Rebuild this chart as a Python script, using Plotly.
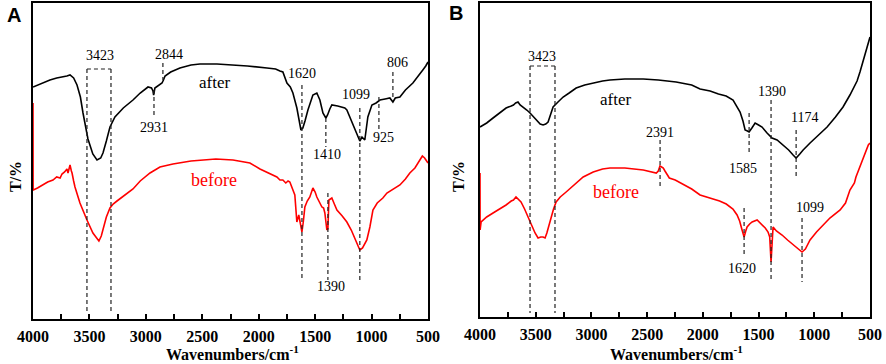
import plotly.graph_objects as go

# ---------------- data (wavenumber cm-1, transmittance in arbitrary units) ----------------
A_after_wn = [4000, 3920, 3850, 3790, 3734, 3700, 3672, 3640, 3610, 3580, 3557, 3535, 3513, 3470, 3433,
              3400, 3380, 3350, 3318, 3274, 3200, 3114, 3050, 2981, 2950, 2937, 2931, 2920, 2880, 2857,
              2844, 2830, 2780, 2698, 2600, 2521, 2370, 2228, 2100, 1927, 1850, 1812, 1786, 1750, 1720,
              1697, 1662, 1626, 1609, 1590, 1564, 1520, 1485, 1458, 1431, 1405, 1390, 1370, 1352, 1300,
              1237, 1219, 1174, 1148, 1120, 1104, 1085, 1060, 1033, 997, 960, 926, 880, 838, 811, 790,
              749, 700, 634, 590, 546, 520, 500]
A_after_T = [232, 236, 239, 241, 242, 243, 244, 241, 234, 222, 206, 192, 180, 165, 159,
             161, 166, 178, 192, 202, 211, 219, 226, 232, 231, 228, 224, 231, 234, 236,
             239, 243, 247, 251, 254, 255, 255, 254, 253, 251, 250, 248, 247, 236, 232,
             226, 211, 189, 191, 198, 209, 224, 226, 219, 206, 201, 204, 210, 214, 213,
             211, 209, 197, 189, 183, 178, 182, 179, 202, 214, 216, 219, 220, 221, 217, 221,
             222, 229, 236, 242, 249, 253, 257]

A_before_wn = [4000, 3999, 3960, 3911, 3870, 3823, 3790, 3760, 3743, 3720, 3699, 3690, 3680, 3672, 3660,
               3654, 3640, 3628, 3584, 3550, 3522, 3469, 3440, 3416, 3395, 3380, 3350, 3318, 3290, 3256,
               3180, 3114, 3050, 2963, 2875, 2760, 2600, 2460, 2380, 2228, 2078, 1989, 1927, 1839, 1812,
               1786, 1760, 1740, 1724, 1697, 1680, 1662, 1645, 1630, 1617, 1605, 1591, 1570, 1547, 1520,
               1500, 1485, 1460, 1440, 1425, 1414, 1396, 1387, 1378, 1365, 1352, 1330, 1307, 1260, 1219,
               1180, 1148, 1120, 1104, 1080, 1042, 1015, 988, 950, 900, 864, 800, 749, 700, 661,
               616, 590, 572, 550, 530, 515, 500]
A_before_T = [216, 129, 131, 134, 137, 139, 142, 141, 145, 147, 150, 146, 153, 154, 148,
              146, 138, 132, 116, 106, 99, 86, 81, 78, 83, 89, 102, 111, 115, 118,
              124, 130, 138, 146, 152, 155, 158, 159, 160, 159, 156, 150, 147, 142, 139,
              139, 136, 138, 137, 129, 124, 97, 104, 95, 87, 97, 112, 118, 122, 131,
              127, 122, 116, 112, 111, 106, 89, 90, 119, 120, 121, 115, 109, 103, 97,
              89, 81, 74, 69, 71, 79, 92, 109, 116, 121, 126, 130, 134, 140, 146,
              151, 156, 159, 163, 161, 158, 156]

B_after_wn = [4000, 3940, 3883, 3820, 3766, 3720, 3700, 3680, 3659, 3640, 3614, 3580, 3551, 3520, 3497,
              3460, 3434, 3410, 3389, 3365, 3344, 3300, 3254, 3200, 3137, 3060, 2984, 2900, 2834, 2700,
              2535, 2400, 2240, 2100, 2025, 1935, 1860, 1791, 1729, 1700, 1666, 1640, 1621, 1600, 1585,
              1560, 1531, 1500, 1469, 1424, 1379, 1334, 1290, 1230, 1190, 1163, 1130, 1100, 1038, 960,
              885, 810, 742, 680, 616, 590, 560, 536, 515, 500]
B_after_T = [190, 194, 199, 204, 209, 211, 212, 214, 215, 212, 210, 207, 204, 200, 197,
             193, 192, 193, 195, 202, 210, 215, 220, 224, 229, 232, 234, 236, 237, 238,
             238, 237, 235, 232, 228, 226, 223, 221, 217, 212, 205, 196, 187, 186, 185,
             189, 194, 192, 190, 184, 179, 177, 173, 167, 162, 159, 163, 167, 174, 182,
             190, 200, 210, 222, 236, 245, 256, 265, 273, 280]

B_before_wn = [4000, 3999, 3990, 3940, 3883, 3820, 3766, 3720, 3700, 3677, 3660, 3632, 3600, 3569, 3540,
               3506, 3479, 3455, 3434, 3416, 3400, 3371, 3340, 3317, 3280, 3227, 3150, 3074, 2984, 2900,
               2834, 2700, 2535, 2450, 2418, 2400, 2385, 2370, 2355, 2340, 2320, 2301, 2248, 2100, 2025,
               1935, 1850, 1790, 1756, 1730, 1693, 1670, 1648, 1630, 1615, 1603, 1580, 1558, 1513, 1469,
               1440, 1415, 1400, 1388, 1380, 1370, 1340, 1289, 1240, 1190, 1150, 1110, 1080, 1038, 980,
               921, 860, 768, 720, 680, 640, 626, 590, 560, 536, 515, 500]
B_before_T = [144, 87, 95, 100, 104, 108, 112, 116, 117, 120, 118, 115, 108, 100, 92,
              84, 79, 80, 80, 79, 84, 97, 108, 115, 120, 125, 133, 140, 145, 148,
              149, 149, 147, 145, 144, 146, 151, 150, 149, 146, 142, 139, 137, 128, 122,
              119, 116, 113, 110, 108, 102, 96, 87, 80, 86, 90, 93, 95, 97, 92,
              89, 85, 80, 55, 74, 90, 86, 82, 77, 72, 69, 65, 68, 77, 85,
              92, 99, 107, 114, 127, 134, 140, 150, 160, 167, 172, 174]

# peak markers: label text, wavenumber of dashed line, line span (T from, T to)
A_peaks = ["2931", "2844", "1620", "1410", "1099", "925", "806", "1390"]
A_peak_wn = [2928, 2849, 1617, 1405, 1104, 935, 811, 1387]
A_peak_span = [(229, 202), (256, 239), (234, 39), (201, 172), (211, 37), (222, 189), (247, 222), (126, 39)]
A_label_pos = [(2928, 191), (2795, 264), (1617, 245), (1396, 165), (1139, 224), (891, 182), (767, 256), (1360, 33)]
A_box = (3522, 3309, 250, 6)
A_box_label = ("3423", 3407, 263)

B_peaks = ["2391", "1585", "1390", "1174", "1620", "1099"]
B_peak_wn = [2384, 1585, 1388, 1163, 1630, 1110]
B_peak_span = [(177, 129), (204, 162), (217, 35), (187, 139), (109, 60), (99, 35)]
B_label_pos = [(2384, 185), (1639, 149), (1379, 225), (1092, 199), (1648, 49), (1038, 110)]
B_box = (3551, 3327, 251, 4)
B_box_label = ("3423", 3443, 260)

x_ticks = list(range(500, 4001, 250))
x_ticktext = [str(v) if v % 500 == 0 else "" for v in x_ticks]

# ---------------- figure ----------------
W, H = 886, 364
SERIF = "Times New Roman, Liberation Serif, serif"
fig = go.Figure()

fig.add_trace(go.Scatter(x=A_after_wn, y=A_after_T, mode="lines", line=dict(color="black", width=1.6),
                         xaxis="x", yaxis="y", showlegend=False))
fig.add_trace(go.Scatter(x=A_before_wn, y=A_before_T, mode="lines", line=dict(color="#ff0000", width=1.6),
                         xaxis="x", yaxis="y", showlegend=False))
fig.add_trace(go.Scatter(x=B_after_wn, y=B_after_T, mode="lines", line=dict(color="black", width=1.6),
                         xaxis="x2", yaxis="y2", showlegend=False))
fig.add_trace(go.Scatter(x=B_before_wn, y=B_before_T, mode="lines", line=dict(color="#ff0000", width=1.6),
                         xaxis="x2", yaxis="y2", showlegend=False))

shapes = []
annotations = []
dash = dict(color="#222222", width=1.2, dash="4px,3px")


def ann(text, x, y, xref, yref, size, color="black", family=SERIF, angle=0):
    return dict(text=text, x=x, y=y, xref=xref, yref=yref, showarrow=False, xanchor="center",
                yanchor="middle", textangle=angle, font=dict(family=family, size=size, color=color))


def add_panel(xr, yr, peaks, wns, spans, lpos, box, box_label):
    for wn, (t0, t1) in zip(wns, spans):
        shapes.append(dict(type="line", xref=xr, yref=yr, x0=wn, x1=wn, y0=t0, y1=t1, line=dash))
    xl, xr_, top, bot = box
    shapes.append(dict(type="line", xref=xr, yref=yr, x0=xl, x1=xl, y0=top, y1=bot, line=dash))
    shapes.append(dict(type="line", xref=xr, yref=yr, x0=xr_, x1=xr_, y0=top, y1=bot, line=dash))
    shapes.append(dict(type="line", xref=xr, yref=yr, x0=xl, x1=xr_, y0=top, y1=top, line=dash))
    for txt, (px_, py_) in zip(peaks, lpos):
        annotations.append(ann(txt, px_, py_, xr, yr, 14))
    annotations.append(ann(box_label[0], box_label[1], box_label[2], xr, yr, 14))


add_panel("x", "y", A_peaks, A_peak_wn, A_peak_span, A_label_pos, A_box, A_box_label)
add_panel("x2", "y2", B_peaks, B_peak_wn, B_peak_span, B_label_pos, B_box, B_box_label)

# series names
annotations += [
    ann("after", 2388, 236, "x", "y", 17),
    ann("before", 2397, 139, "x", "y", 18, color="#ff0000"),
    ann("after", 2788, 217, "x2", "y2", 17),
    ann("before", 2779, 125, "x2", "y2", 18, color="#ff0000"),
]


def px(x, y):
    return x / W, 1 - y / H


for lbl, (xx, yy) in [("A", (14, 15)), ("B", (456, 13))]:
    a, b = px(xx, yy)
    annotations.append(ann("<b>%s</b>" % lbl, a, b, "paper", "paper", 20,
                           family="Arial, Liberation Sans, sans-serif"))
for xx in (15, 458):
    a, b = px(xx, 177)
    annotations.append(ann("<b>T/%</b>", a, b, "paper", "paper", 16, angle=-90))
for xx in (232, 676):
    a, b = px(xx, 353)
    annotations.append(ann("<b>Wavenumbers/cm<sup>-1</sup></b>", a, b, "paper", "paper", 16))

xcommon = dict(range=[4000, 500], tickmode="array", tickvals=x_ticks, ticktext=x_ticktext,
               ticks="inside", ticklen=5, tickwidth=1.5, tickcolor="black", ticklabelstandoff=2,
               showline=True, linecolor="black", linewidth=1.8, mirror=True,
               showgrid=False, zeroline=False, automargin=False,
               tickfont=dict(family=SERIF, size=16, color="black", weight="bold"))
ycommon = dict(showticklabels=False, ticks="", showline=True, linecolor="black", linewidth=1.8,
               mirror=True, showgrid=False, zeroline=False, automargin=False)

fig.update_layout(
    width=W, height=H, margin=dict(l=0, r=0, t=0, b=0, pad=0, autoexpand=False),
    paper_bgcolor="white", plot_bgcolor="white",
    xaxis=dict(domain=[33 / W, 428 / W], anchor="y", **xcommon),
    yaxis=dict(domain=[1 - 319 / H, 1 - 3 / H], anchor="x", range=[0, 316], **ycommon),
    xaxis2=dict(domain=[480 / W, 870 / W], anchor="y2", **xcommon),
    yaxis2=dict(domain=[1 - 317 / H, 1 - 3 / H], anchor="x2", range=[0, 314], **ycommon),
    shapes=shapes, annotations=annotations,
)

fig.write_html("out.html", config={"displayModeBar": False},
               post_script="document.body.style.margin='0';document.body.style.overflow='hidden';")
